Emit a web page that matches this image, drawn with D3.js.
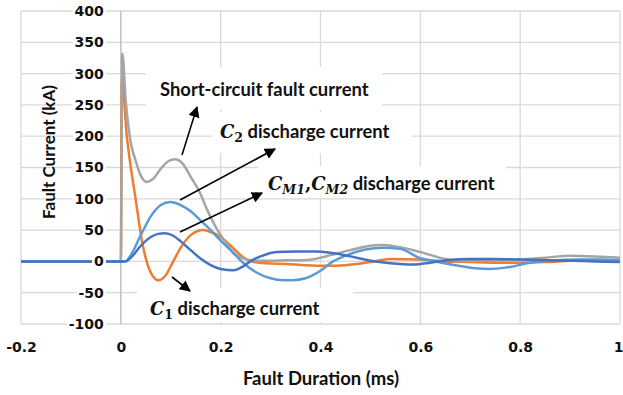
<!DOCTYPE html>
<html>
<head>
<meta charset="utf-8">
<script src="https://cdn.jsdelivr.net/npm/d3@7"></script>
<style>
html,body{margin:0;padding:0;background:#fff;}
svg{display:block;}
</style>
</head>
<body>
<svg id="chart" width="623" height="395"></svg>
<script>
// ---------------- data ----------------
const xTicks = [-0.2, 0, 0.2, 0.4, 0.6, 0.8, 1];
const yTicks = [-100, -50, 0, 50, 100, 150, 200, 250, 300, 350, 400];

// Short-circuit fault current (grey)
const scTime = [-0.2, 0, 0.003, 0.01, 0.019, 0.03, 0.04, 0.052, 0.065, 0.08, 0.095, 0.109, 0.125, 0.14, 0.159, 0.172, 0.19, 0.21, 0.226, 0.245, 0.26, 0.28, 0.3, 0.33, 0.36, 0.39, 0.42, 0.46, 0.5, 0.52, 0.55, 0.6, 0.65, 0.7, 0.75, 0.8, 0.85, 0.9, 0.95, 1.0];
const scVal  = [0, 0, 332, 255, 194, 160, 137, 127, 132, 148, 160, 163, 155, 135, 109, 84, 55, 30, 13, 5, 2, 1, 1, 2, 2, 4, 10, 18, 25, 26, 24, 15, 4, 1, 2, 3, 6, 9, 8, 6];

// C1 discharge current (orange)
const c1Time = [-0.2, 0, 0.002, 0.012, 0.02, 0.029, 0.035, 0.042, 0.05, 0.06, 0.075, 0.09, 0.105, 0.12, 0.14, 0.165, 0.18, 0.2, 0.22, 0.24, 0.26, 0.29, 0.33, 0.37, 0.41, 0.45, 0.5, 0.54, 0.6, 0.65, 0.7, 0.75, 0.8, 0.85, 0.9, 0.95, 1];
const c1Val  = [0, 0, 290, 200, 150, 103, 70, 34, 5, -18, -30, -22, 0, 22, 42, 50, 47, 39, 25, 10, 0, -3, -4, -6, -7, -6, -1, 4, 3, 0, -1, -2, -2, -1, 1, 2, 1];

// C2 discharge current (light blue)
const c2Time = [-0.2, 0.009, 0.02, 0.04, 0.06, 0.08, 0.099, 0.12, 0.14, 0.159, 0.18, 0.199, 0.22, 0.246, 0.27, 0.3, 0.326, 0.345, 0.37, 0.4, 0.425, 0.453, 0.49, 0.526, 0.56, 0.6, 0.63, 0.67, 0.71, 0.74, 0.78, 0.813, 0.86, 0.92, 0.96, 1];
const c2Val  = [0, 0, 10, 42, 72, 90, 95, 90, 80, 66, 50, 34, 18, -3, -17, -27, -30, -30, -27, -15, 0, 10, 19, 22, 20, 5, 0, -6, -11, -12, -9, -3, 1, 3, 3, 2];

// CM1, CM2 discharge current (dark blue)
const cmTime = [-0.2, 0.009, 0.02, 0.04, 0.06, 0.075, 0.089, 0.105, 0.12, 0.14, 0.159, 0.18, 0.2, 0.226, 0.245, 0.259, 0.28, 0.312, 0.35, 0.39, 0.42, 0.46, 0.5, 0.54, 0.586, 0.62, 0.653, 0.7, 0.75, 0.8, 0.853, 0.9, 0.95, 1];
const cmVal  = [0, 0, 6, 25, 39, 44, 45, 41, 32, 18, 5, -6, -12, -14, -8, 0, 8, 15, 16, 16, 14, 8, 1, -3, -5, -2, 2, 4, 4, 3, 2, 1, 0, -1];

const seriesNames = ["C1", "Short-circuit", "C2", "CM"];
const seriesColors = ["#ED7D31", "#A5A5A5", "#5B9BD5", "#4472C4"];

// ---------------- drawing ----------------
const svg = d3.select("#chart");
const x = d3.scaleLinear().domain([-0.2, 1]).range([21, 620]);
const y = d3.scaleLinear().domain([-100, 400]).range([324, 11]);

const FONT = "Lato, 'Open Sans', sans-serif";
const TICKFONT = "'DejaVu Sans', sans-serif";
const fmt = d => String(d).replace("\u2212", "-");

// gridlines
const grid = svg.append("g");
grid.selectAll("line.h").data(yTicks).join("line")
  .attr("x1", x(-0.2)).attr("x2", x(1))
  .attr("y1", d => y(d)).attr("y2", d => y(d))
  .attr("stroke", "#d9d9d9").attr("stroke-width", 1.3);
grid.selectAll("line.v").data(xTicks.filter(d => d !== 0)).join("line")
  .attr("x1", d => x(d)).attr("x2", d => x(d))
  .attr("y1", y(400)).attr("y2", y(-100))
  .attr("stroke", "#d9d9d9").attr("stroke-width", 1.3);
// vertical axis line at 0
svg.append("line")
  .attr("x1", x(0)).attr("x2", x(0)).attr("y1", y(400)).attr("y2", y(-100))
  .attr("stroke", "#bfbfbf").attr("stroke-width", 1.5);

// annotation white boxes (cover gridlines)
const boxes = [
  [146, 67, 236, 43],
  [212, 112, 200, 41],
  [258, 166, 248, 32],
  [137, 288, 216, 34]
];
svg.append("g").selectAll("rect").data(boxes).join("rect")
  .attr("x", d => d[0]).attr("y", d => d[1]).attr("width", d => d[2]).attr("height", d => d[3])
  .attr("fill", "#fff");

// series
const allSeries = [
  [c1Time, c1Val],
  [scTime, scVal],
  [c2Time, c2Val],
  [cmTime, cmVal]
];
const line = d3.line().x(d => x(d[0])).y(d => y(d[1])).curve(d3.curveMonotoneX);
const gS = svg.append("g");
allSeries.forEach((s, i) => {
  const pts = s[0].map((t, k) => [t, s[1][k]]);
  gS.append("path").datum(pts)
    .attr("d", line)
    .attr("fill", "none")
    .attr("stroke", seriesColors[i])
    .attr("stroke-width", 2.5)
    .attr("stroke-linejoin", "round");
});

// y axis labels
const yAxis = svg.append("g")
  .attr("transform", `translate(${x(0)},0)`)
  .call(d3.axisLeft(y).tickValues(yTicks).tickSize(0).tickPadding(17).tickFormat(fmt));
yAxis.select(".domain").remove();
yAxis.selectAll("text")
  .attr("font-family", TICKFONT).attr("font-weight", 700).attr("font-size", 14).attr("fill", "#111");
yAxis.selectAll(".tick").each(function() {
  const t = d3.select(this).select("text").node();
  const b = t.getBBox();
  d3.select(this).insert("rect", "text")
    .attr("x", b.x - 2).attr("y", b.y + 1).attr("width", b.width + 4).attr("height", b.height - 2)
    .attr("fill", "#fff");
});

// x axis labels
const xAxis = svg.append("g")
  .attr("transform", `translate(0,${y(-100)})`)
  .call(d3.axisBottom(x).tickValues(xTicks).tickSize(0).tickPadding(18).tickFormat(fmt));
xAxis.select(".domain").remove();
xAxis.selectAll("text")
  .attr("font-family", TICKFONT).attr("font-weight", 700).attr("font-size", 14).attr("fill", "#111");
xAxis.selectAll(".tick").filter(d => d === 1).select("text")
  .attr("text-anchor", "end").attr("x", 3);

// axis titles
svg.append("text")
  .attr("x", 321).attr("y", 385)
  .attr("text-anchor", "middle")
  .attr("font-family", FONT).attr("font-weight", 700).attr("font-size", 18.5).attr("fill", "#111")
  .text("Fault Duration (ms)");
svg.append("text")
  .attr("transform", "translate(55,152) rotate(-90)")
  .attr("text-anchor", "middle")
  .attr("font-family", FONT).attr("font-weight", 700).attr("font-size", 17).attr("fill", "#111")
  .text("Fault Current (kA)");

// annotations
const MATH = "'DejaVu Serif', 'Liberation Serif', serif";
const ann = svg.append("g").attr("font-family", FONT).attr("font-weight", 700).attr("font-size", 18.4).attr("fill", "#111");

ann.append("text").attr("x", 160).attr("y", 96).text("Short-circuit fault current");

function mathC(sel, sub) {
  sel.append("tspan").attr("font-family", MATH).attr("font-style", "italic").attr("font-weight", 700).attr("font-size", 18).text("C");
  sel.append("tspan").attr("font-family", MATH).attr("font-style", sub === "2" || sub === "1" ? "normal" : "italic")
    .attr("font-weight", 700).attr("font-size", 12.5).attr("dy", 4).text(sub);
}
let t2 = ann.append("text").attr("x", 220).attr("y", 138);
mathC(t2, "2");
t2.append("tspan").attr("dy", -4).text(" discharge current");

let t3 = ann.append("text").attr("x", 268).attr("y", 190);
mathC(t3, "M1");
t3.append("tspan").attr("dy", -4).attr("font-family", MATH).text(",");
mathC(t3, "M2");
t3.append("tspan").attr("dy", -4).text(" discharge current");

let t1 = ann.append("text").attr("x", 150).attr("y", 315);
mathC(t1, "1");
t1.append("tspan").attr("dy", -4).text(" discharge current");

// arrows
const defs = svg.append("defs");
defs.append("marker").attr("id", "ah")
  .attr("viewBox", "0 0 10 10").attr("refX", 9).attr("refY", 5)
  .attr("markerWidth", 7).attr("markerHeight", 7).attr("markerUnits", "strokeWidth")
  .attr("orient", "auto")
  .append("path").attr("d", "M0,0 L10,5 L0,10 z").attr("fill", "#000");
const arrows = [
  [182, 155, 197, 107],
  [180, 200, 275, 149],
  [180, 232, 262, 193],
  [172, 277, 190, 291]
];
svg.append("g").selectAll("line").data(arrows).join("line")
  .attr("x1", d => d[0]).attr("y1", d => d[1]).attr("x2", d => d[2]).attr("y2", d => d[3])
  .attr("stroke", "#000").attr("stroke-width", 1.6)
  .attr("marker-end", "url(#ah)");
</script>
</body>
</html>
